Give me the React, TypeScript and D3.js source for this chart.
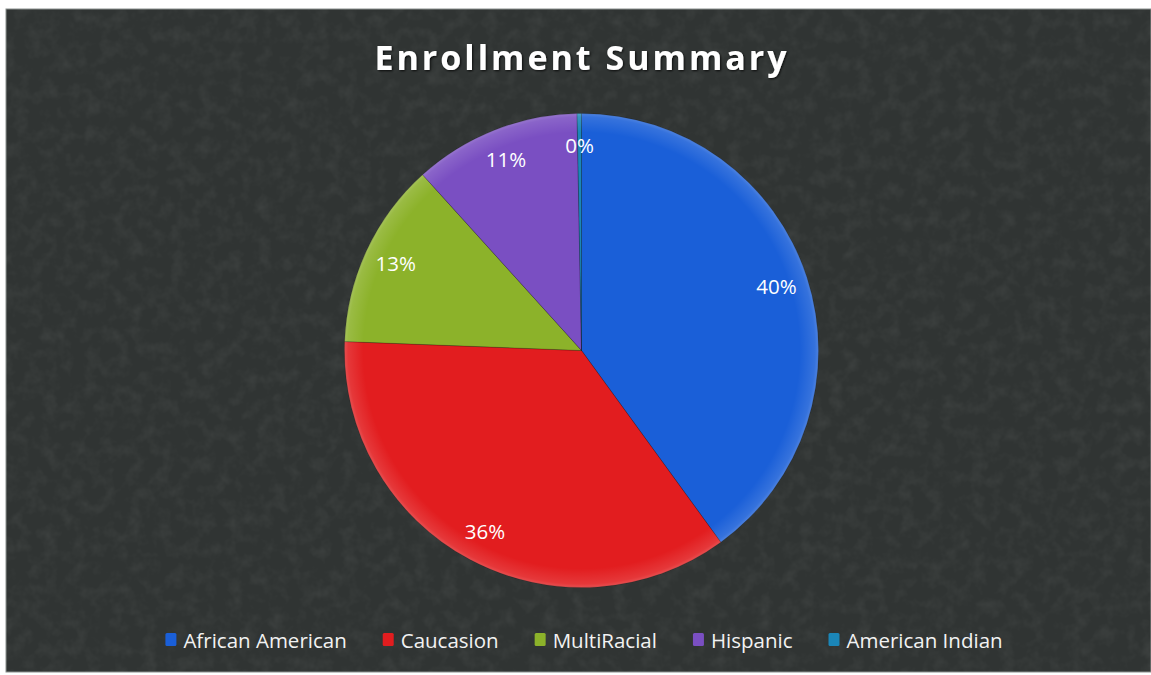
import React, { useEffect, useRef } from "react";
import * as d3 from "d3";

const categories = ["African American", "Caucasion", "MultiRacial", "Hispanic", "American Indian"];
const values = [40.0, 35.6, 12.7, 11.4, 0.3];
const colors = ["#1a5fd8", "#e21d1f", "#8cb22a", "#7a4fc2", "#1b86b8"];
const title = "Enrollment Summary";

const W = 1151;
const H = 675;

export default function App() {
  const ref = useRef<SVGSVGElement>(null);

  useEffect(() => {
    const svg = d3.select(ref.current);
    svg.selectAll("*").remove();

    const defs = svg.append("defs");
    const f = defs.append("filter").attr("id", "noise").attr("x", 0).attr("y", 0).attr("width", "100%").attr("height", "100%");
    f.append("feTurbulence").attr("type", "fractalNoise").attr("baseFrequency", 0.07).attr("numOctaves", 3).attr("seed", 7).attr("result", "n");
    f.append("feColorMatrix").attr("type", "matrix")
      .attr("values", "0 0 0 0 0.6  0 0 0 0 0.62  0 0 0 0 0.6  0 0 0 1.2 -0.5");

    const rim = defs.append("radialGradient").attr("id", "rim").attr("gradientUnits", "userSpaceOnUse")
      .attr("cx", 0).attr("cy", 0).attr("r", 237);
    rim.append("stop").attr("offset", "0.92").attr("stop-color", "#fff").attr("stop-opacity", 0);
    rim.append("stop").attr("offset", "0.985").attr("stop-color", "#fff").attr("stop-opacity", 0.12);
    rim.append("stop").attr("offset", "1").attr("stop-color", "#fff").attr("stop-opacity", 0.22);

    const shadow = defs.append("filter").attr("id", "tshadow");
    shadow.append("feDropShadow").attr("dx", 1).attr("dy", 1).attr("stdDeviation", 0.8).attr("flood-color", "#000").attr("flood-opacity", 0.8);

    // background box
    svg.append("rect").attr("x", 0).attr("y", 0).attr("width", W).attr("height", H).attr("fill", "#ffffff");
    svg.append("rect").attr("x", 6).attr("y", 9).attr("width", 1145).attr("height", 663)
      .attr("fill", "#303433").attr("stroke", "#8a8f8d").attr("stroke-width", 1);
    svg.append("rect").attr("x", 6).attr("y", 9).attr("width", 1145).attr("height", 663)
      .attr("filter", "url(#noise)").attr("opacity", 0.12);

    // title
    svg.append("text").attr("x", 582).attr("y", 70).attr("text-anchor", "middle")
      .attr("font-family", "'Open Sans', sans-serif").attr("font-weight", 700).attr("font-size", 34)
      .attr("letter-spacing", 3).attr("fill", "#ffffff").attr("filter", "url(#tshadow)").text(title);

    const cx = 581.5, cy = 350.5, r = 237;
    const g = svg.append("g").attr("transform", `translate(${cx},${cy})`);
    const pie = d3.pie<number>().sort(null).value(d => d)(values);
    const arc = d3.arc<d3.PieArcDatum<number>>().innerRadius(0).outerRadius(r);

    g.selectAll("path.slice").data(pie).enter().append("path").attr("class", "slice")
      .attr("d", arc).attr("fill", (_, i) => colors[i]).attr("stroke", "rgba(0,0,0,0.25)").attr("stroke-width", 0.8);
    g.selectAll("path.rim").data(pie).enter().append("path").attr("class", "rim")
      .attr("d", arc).attr("fill", "url(#rim)");

    const labelArc = d3.arc<d3.PieArcDatum<number>>().innerRadius(205).outerRadius(205);
    g.selectAll("text.lbl").data(pie).enter().append("text").attr("class", "lbl")
      .attr("transform", d => `translate(${labelArc.centroid(d)})`)
      .attr("text-anchor", "middle").attr("dy", "0.35em")
      .attr("font-family", "'Open Sans', sans-serif").attr("font-size", 20.5).attr("fill", "#ffffff")
      .text(d => `${Math.round(d.data)}%`);

    // legend
    const lg = svg.append("g");
    const items = lg.selectAll("g.it").data(categories).enter().append("g").attr("class", "it");
    items.append("rect").attr("width", 11).attr("height", 13).attr("y", -15).attr("rx", 1.5)
      .attr("fill", (_, i) => colors[i]);
    const texts = items.append("text").attr("x", 18).attr("y", 0)
      .attr("font-family", "'Open Sans', sans-serif").attr("font-size", 20.5).attr("fill", "#f2f2f2")
      .text(d => d);
    const widths: number[] = [];
    texts.each(function () { widths.push((this as SVGTextElement).getComputedTextLength()); });
    const gap = 36;
    const total = widths.reduce((a, w) => a + 18 + w, 0) + gap * (widths.length - 1);
    let x = 584 - total / 2;
    items.each(function (_, i) {
      d3.select(this).attr("transform", `translate(${x},648)`);
      x += 18 + widths[i] + gap;
    });
  }, []);

  return (
    <svg ref={ref} width={W} height={H} style={{ position: "absolute", left: 0, top: 0 }} />
  );
}
